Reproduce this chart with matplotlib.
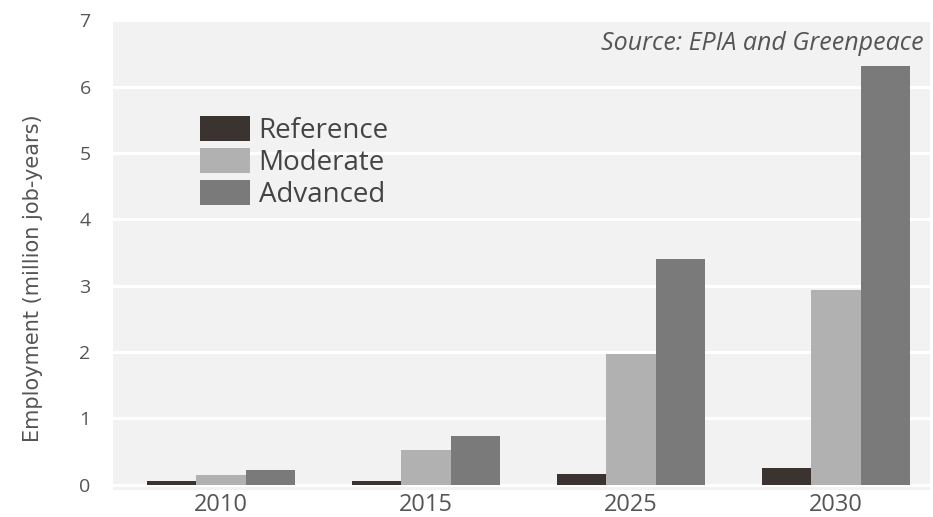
import matplotlib.pyplot as plt
import numpy as np

# Dados (milhoes de empregos-ano)
anos = ["2010", "2015", "2025", "2030"]
cenarios = ["Reference", "Moderate", "Advanced"]
reference = [0.05, 0.05, 0.17, 0.25]
moderate = [0.15, 0.52, 1.97, 2.94]
advanced = [0.22, 0.73, 3.40, 6.31]

CORES = ["#3a3330", "#b1b1b1", "#7a7a7a"]

plt.rcParams.update({
    "font.family": ["Open Sans", "DejaVu Sans"],
})

fig = plt.figure(figsize=(9.33, 5.17), dpi=100)
ax = fig.add_axes([0.121, 0.052, 0.876, 0.909])
ax.set_facecolor("#f2f2f2")

x = np.arange(len(anos))
largura = 0.24
for i, (valores, nome) in enumerate(zip([reference, moderate, advanced], cenarios)):
    ax.bar(x + (i - 1) * largura, valores, width=largura, color=CORES[i],
           label=nome, zorder=3)

ax.set_ylim(-0.08, 7.0)
ax.set_xlim(-0.527, 3.46)
ax.set_yticks(range(8))
ax.set_xticks(x)
ax.set_xticklabels(anos, fontsize=17, color="#555555")
ax.tick_params(axis="y", labelsize=14, colors="#555555", length=0, pad=16)
ax.tick_params(axis="x", length=0, pad=2)
ax.yaxis.grid(True, color="white", linewidth=2.2, zorder=1)
ax.set_axisbelow(True)
for s in ax.spines.values():
    s.set_visible(False)

ax.set_ylabel("Employment (million job-years)", fontsize=15, color="#555555",
              family=["Liberation Sans Narrow", "DejaVu Sans"])
ax.yaxis.set_label_coords(-0.085, 0.45)

ax.text(0.992, 0.95, "Source: EPIA and Greenpeace", transform=ax.transAxes,
        ha="right", va="center", fontsize=18, style="italic", color="#555555")

ax.legend(loc="upper left", bbox_to_anchor=(0.09, 0.825), frameon=False,
          fontsize=20, handlelength=1.8, handleheight=1.0, labelspacing=0.1,
          handletextpad=0.3, borderpad=0, labelcolor="#444444")

fig.savefig("out.png", dpi=100)
